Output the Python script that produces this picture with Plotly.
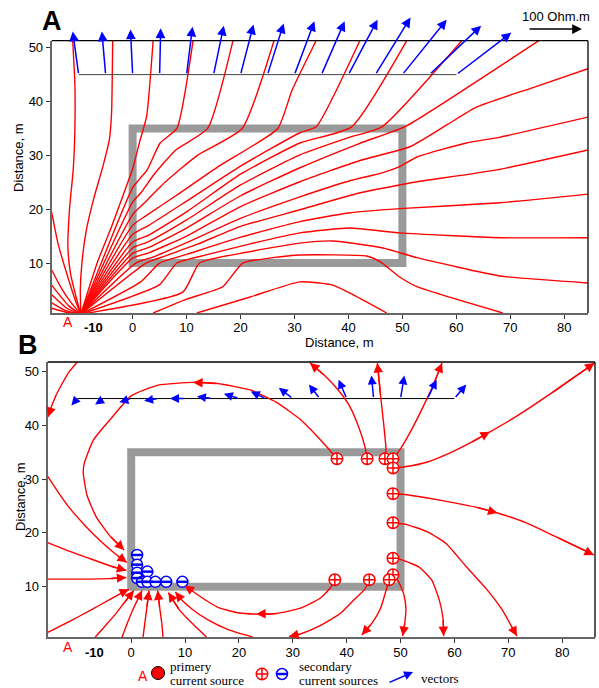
import plotly.graph_objects as go

W, H = 599, 688
SANS = "Liberation Sans, Arial, sans-serif"
SERIF = "Liberation Serif, Times New Roman, serif"
RED, BLUE, GREY = "#ff0000", "#0000ff", "#9a9a9a"

# ---------------- model geometry ----------------
box_x = [0, 50]
box_y = [10, 35]
profile_x = [-10, 60]
profile_y = 45
src_a = (-9.6, 0.0)
src_b = (-9.8, 0.0)

# ---------------- vectors (Ohm.m) along the profile ----------------
vec_x = [-10, -5, 0, 5, 10, 15, 20, 25, 30, 35, 40, 45, 50, 55, 60]
a_vec_u = [-11, -7, -4, 2, 11, 19, 24, 30, 37, 43, 54, 65, 82, 96, 102]
a_vec_v = [80, 80, 84, 86, 89, 91, 93, 95, 99, 99, 102, 106, 102, 91, 78]
b_vec_u = [-11, -17, -22, -26, -28, -28, -28, -28, -26, -20, -15, -4, 7, 17, 22]
b_vec_v = [-13, -11, -7, -4, 0, 4, 9, 13, 20, 26, 35, 43, 43, 35, 26]
vec_scale = 0.1        # distance units per Ohm.m
scale_bar = 100        # Ohm.m

# ---------------- panel A current lines ----------------
S = (-9.6, 0.5)
a_lines = [
    # leaving through the left edge
    [S, (-10.6, 3), (-12.2, 8), (-13.8, 13.5), (-15.0, 19.4)],
    [S, (-11.3, 2.5), (-13.3, 5.5), (-15.0, 8.7)],
    [S, (-11.8, 2.0), (-15.0, 5.9)],
    [S, (-12.2, 1.6), (-15.0, 4.1)],
    [S, (-12.5, 1.2), (-15.0, 2.6)],
    [S, (-12.5, 0.9), (-15.0, 1.6)],
    # to the top, left of the body
    [S, (-10.3, 3), (-11.5, 8), (-12.0, 13), (-11.7, 20), (-11.0, 27.5), (-10.7, 35), (-10.7, 43), (-11.1, 51.3)],
    [S, (-9.7, 5), (-9.4, 10), (-8.6, 16), (-7.2, 22), (-5.5, 28), (-4.3, 33), (-3.9, 38), (-3.7, 51.3)],
    [S, (-8.2, 5), (-6.4, 10.5), (-4.0, 16.5), (-1.8, 22.5), (0, 27.5), (1.3, 32.5), (2.6, 37.3), (3.8, 51.3)],
    # through the body, out of its top
    [S, (0, 24), (1.2, 25.5), (2.7, 27.3), (5.1, 32.3), (8.2, 35), (11.2, 51.3)],
    [S, (0, 21.3), (1.5, 23), (4, 26.5), (8, 31), (13.9, 35), (18.6, 51.3)],
    [S, (0, 19), (2, 21), (6, 25), (12, 30), (20.3, 35), (26.2, 51.3)],
    [S, (0, 17), (2.5, 18.8), (8, 22.5), (16, 28), (26.9, 35), (29.5, 42), (31.0, 45.2), (34.0, 51.3)],
    [S, (0, 15.3), (3, 17), (10, 21.5), (20, 28), (31, 34.2), (34, 35.3), (42.1, 51.3)],
    [S, (0, 13.9), (3, 15.2), (10, 19.5), (20, 26.5), (31, 32.3), (40.6, 35.3), (50.8, 51.3)],
    [S, (0, 12.8), (3, 14), (10, 18), (20, 24.5), (31, 30.1), (40, 33.3), (46.2, 35.3), (61.0, 51.3)],
    [S, (0, 11.8), (3, 12.9), (10, 16.5), (20, 22.5), (31, 27.7), (42, 32.2), (50.8, 35.5), (65.7, 45.0), (75.3, 51.3)],
    # through the body, out of its right side
    [S, (0, 10.9), (3, 11.9), (10, 15), (20, 20.5), (31, 25.1), (42, 29), (51.4, 31.6), (58.3, 35.7), (63.8, 39.0), (74.2, 42.6), (84.4, 46.1)],
    [S, (0.6, 10.0), (4, 11.2), (10, 13.8), (20, 18.3), (31, 22.3), (40, 25.2), (46.4, 26.8), (49.5, 27.9), (52.7, 29.7), (61.9, 32.3), (68.1, 33.4), (84.4, 37.1)],
    [S, (2.5, 10.0), (6, 11.3), (12, 13.5), (20, 16.8), (31, 19.9), (42, 23.0), (49.5, 24.5), (52.7, 25.1), (67.5, 27.3), (84.4, 31.0)],
    [S, (1.5, 6.5), (5, 10), (10, 11.6), (20, 14.8), (31, 17.7), (40, 19.3), (49.5, 20.1), (68.1, 21.2), (84.4, 22.8)],
    [S, (5, 6), (8.2, 10), (14, 11.6), (22, 13.6), (31, 15.6), (40.3, 16.5), (49.5, 15.6), (68.1, 14.7), (84.4, 14.7)],
    [S, (9.3, 4.6), (12.4, 10), (20, 11.8), (31, 13.7), (37.1, 14.1), (46.4, 12.8), (52.7, 11.0), (68.1, 7.6), (84.4, 6.3)],
    # re-entering from below
    [(3.8, 0.72), (10, 3.3), (16.7, 5.6), (20.4, 10.0), (26, 11), (31, 11.5), (43.4, 11.3), (45.8, 10.3), (49.5, 7.4), (52.7, 5.6), (68.6, 0.72)],
    [(11.9, 0.72), (21.8, 3.7), (31, 6.5), (37.1, 5.9), (40.3, 4.4), (47.1, 0.72)],
]

# ---------------- panel B current lines (flow direction) ----------------
b_lines = [
    [(38.2, 33.8), (36.5, 35.8), (34.5, 38.0), (31.4, 41.1), (27, 44.3), (22.1, 46.6), (16, 47.8), (11.5, 48.0), (5, 47.5), (0, 45.5), (-3.9, 41.1), (-7.0, 37.3), (-8.7, 33), (-8.9, 31.2), (-8.2, 27), (-6.5, 23), (-4.0, 19.5), (-1.3, 16.8)],
    [(43.8, 33.8), (43.4, 36), (42.3, 39.5), (40.6, 43.5), (38.5, 46.5), (36, 49.2), (33.2, 51.6)],
    [(47.1, 33.8), (47.3, 35.5), (46.9, 40), (46.3, 45.5), (45.7, 51.6)],
    [(48.6, 33.8), (49.9, 35.5), (52.2, 39.5), (54.2, 43.5), (56.2, 47.8), (57.7, 51.6)],
    [(48.6, 32.1), (50.8, 32.3), (55, 33.2), (59.2, 34.9), (63, 36.8), (66.6, 38.8), (72, 42), (78, 46), (86.0, 51.6)],
    [(48.6, 27.3), (50.5, 27.2), (55, 26.5), (60, 25.6), (64, 24.8), (68, 23.7), (73, 22), (79, 19.2), (85.9, 15.9)],
    [(48.6, 21.9), (51, 21.6), (55, 20.2), (58.5, 18.0), (62.3, 13.6), (66, 9.5), (68.8, 5.8), (70.5, 2.8), (71.6, 0.8)],
    [(48.6, 15.3), (50.5, 14.9), (53.5, 13.6), (55.8, 11.2), (57.2, 7.5), (57.9, 4.0), (58.0, 0.8)],
    [(48.6, 12.2), (49.6, 11.0), (50.6, 8.6), (51.0, 6.0), (50.8, 3.3), (50.4, 0.8)],
    [(47.9, 11.3), (47.4, 9.6), (46.3, 6.0), (44.7, 3.2), (42.8, 1.0)],
    [(44.2, 11.3), (43.4, 9.6), (41, 7.2), (38.8, 5.0), (35, 2.7), (31.4, 1.2), (29.3, 0.75)],
    [(37.8, 11.3), (37.0, 9.8), (35, 7.8), (31.4, 6.0), (27, 5.0), (23.2, 4.9), (19.5, 5.2), (16, 6.2), (13.5, 7.7), (11.2, 9.3), (9.9, 10.2)],
    [(-10.0, 51.8), (-11.5, 50), (-12.8, 47.8), (-14.0, 45.5), (-14.8, 43.5), (-15.4, 41.6)],
    [(-15.5, 30.5), (-13.5, 27.5), (-11.5, 24.7), (-8.5, 21.3), (-5.5, 18.3), (-2.7, 15.9), (-0.8, 14.5)],
    [(-15.5, 18.2), (-11.5, 16.6), (-7.6, 15.2), (-4, 13.9), (-0.9, 13.0)],
    [(-15.5, 11.4), (-11, 11.4), (-7.6, 11.4), (-4, 11.5), (-0.9, 11.7)],
    [(-15.5, 1.5), (-11.5, 3.5), (-7.6, 5.6), (-4, 7.6), (-1.5, 9.0), (-0.4, 9.5)],
    [(-6.7, 0.6), (-5, 2.5), (-3, 4.8), (-1.3, 7.0), (0.5, 9.3)],
    [(-1.7, 0.6), (-0.8, 3.0), (0.3, 5.7), (1.3, 7.8), (2.0, 9.3)],
    [(2.2, 0.6), (2.5, 3), (2.9, 6), (3.3, 9.3)],
    [(5.9, 0.6), (5.7, 3), (5.3, 6), (4.9, 9.3)],
    [(14.0, 0.6), (11.5, 3), (9, 5.6), (6.9, 8.9)],
    [(22.6, 0.6), (18, 2.0), (14.1, 3.9), (11.2, 5.9), (9.3, 7.6), (8.2, 9.0)],
]
b_mid_arrow = [7, None, None, None, 5, 5, None, None, None, None, None, 5,
               None, None, None, None, None, None, None, None, None, None, None]

b_pos_x = [38.2, 43.8, 47.1, 48.6, 48.6, 48.6, 48.6, 48.6, 48.6, 47.9, 44.2, 37.8]
b_pos_y = [33.8, 33.8, 33.8, 33.8, 32.1, 27.3, 21.9, 15.3, 12.2, 11.3, 11.3, 11.3]
b_neg_x = [1.1, 1.1, 1.1, 3.0, 1.1, 2.0, 3.0, 4.5, 6.5, 9.5]
b_neg_y = [15.9, 14.1, 12.6, 12.8, 11.6, 10.9, 10.9, 10.9, 10.9, 10.9]

x_ticks = [0, 10, 20, 30, 40, 50, 60, 70, 80]
y_ticks = [10, 20, 30, 40, 50]

# axis ranges (distance, m)
a_xr, a_yr = [-15.0, 84.4], [0.72, 51.3]
b_xr, b_yr = [-15.5, 86.1], [0.58, 51.8]
a_dom_px = (51.7, 588, 40.7, 313)      # left, right, top, bottom (px)
b_dom_px = (47.7, 595, 362, 637.3)


def pxx(v):
    return v / W


def pxy(v):
    return 1 - v / H


fig = go.Figure()

# ---- panel A lines ----
ax, ay = [], []
for ln in a_lines:
    ax += [p[0] for p in ln] + [None]
    ay += [p[1] for p in ln] + [None]
fig.add_trace(go.Scatter(x=ax, y=ay, mode="lines",
                         line=dict(color=RED, width=1.4, shape="spline", smoothing=0.5),
                         xaxis="x", yaxis="y", hoverinfo="skip", showlegend=False))
fig.add_trace(go.Scatter(x=profile_x, y=[profile_y] * 2, mode="lines",
                         line=dict(color="#444444", width=1), xaxis="x", yaxis="y",
                         hoverinfo="skip", showlegend=False))
fig.add_trace(go.Scatter(x=[src_a[0]], y=[src_a[1]], mode="markers", cliponaxis=False,
                         marker=dict(size=13, color=RED, line=dict(color="black", width=1)),
                         xaxis="x", yaxis="y", showlegend=False))

# ---- panel B lines ----
fig.add_trace(go.Scatter(x=profile_x, y=[profile_y] * 2, mode="lines",
                         line=dict(color="black", width=1), xaxis="x2", yaxis="y2",
                         hoverinfo="skip", showlegend=False))
bx, by = [], []
for ln in b_lines:
    bx += [p[0] for p in ln] + [None]
    by += [p[1] for p in ln] + [None]
fig.add_trace(go.Scatter(x=bx, y=by, mode="lines",
                         line=dict(color=RED, width=1.4, shape="spline", smoothing=0.5),
                         xaxis="x2", yaxis="y2", hoverinfo="skip", showlegend=False))

fig.add_trace(go.Scatter(x=b_pos_x, y=b_pos_y, mode="markers", cliponaxis=False,
                         marker=dict(symbol="circle-cross", size=11.5, color="white",
                                     line=dict(color=RED, width=1.5)),
                         xaxis="x2", yaxis="y2", showlegend=False))
fig.add_trace(go.Scatter(x=b_neg_x, y=b_neg_y, mode="markers", cliponaxis=False,
                         marker=dict(symbol="circle", size=11, color="white",
                                     line=dict(color=BLUE, width=1.5)),
                         xaxis="x2", yaxis="y2", showlegend=False))
fig.add_trace(go.Scatter(x=b_neg_x, y=b_neg_y, mode="markers", cliponaxis=False,
                         marker=dict(symbol="line-ew", size=8, line=dict(color=BLUE, width=2.5)),
                         xaxis="x2", yaxis="y2", showlegend=False))
fig.add_trace(go.Scatter(x=[src_b[0]], y=[src_b[1]], mode="markers", cliponaxis=False,
                         marker=dict(size=13, color=RED, line=dict(color="black", width=1)),
                         xaxis="x2", yaxis="y2", showlegend=False))

# ---- legend glyphs (pixel overlay) ----
fig.add_trace(go.Scatter(x=[158], y=[673], mode="markers",
                         marker=dict(size=13, color=RED, line=dict(color="black", width=1)),
                         xaxis="x3", yaxis="y3", showlegend=False))
fig.add_trace(go.Scatter(x=[262], y=[674], mode="markers",
                         marker=dict(symbol="circle-cross", size=11.5, color="white",
                                     line=dict(color=RED, width=1.5)),
                         xaxis="x3", yaxis="y3", showlegend=False))
fig.add_trace(go.Scatter(x=[282], y=[674], mode="markers",
                         marker=dict(symbol="circle", size=11, color="white",
                                     line=dict(color=BLUE, width=1.5)),
                         xaxis="x3", yaxis="y3", showlegend=False))
fig.add_trace(go.Scatter(x=[282], y=[674], mode="markers",
                         marker=dict(symbol="line-ew", size=8, line=dict(color=BLUE, width=2.5)),
                         xaxis="x3", yaxis="y3", showlegend=False))

ann = []
# red arrowheads along the panel-B current lines (end + selected mid points)
for ln, mid in zip(b_lines, b_mid_arrow):
    idx = [len(ln) - 1] + ([mid] if mid is not None else [])
    for i in idx:
        ann.append(dict(x=ln[i][0], y=ln[i][1], ax=ln[i - 1][0], ay=ln[i - 1][1],
                        xref="x2", yref="y2", axref="x2", ayref="y2", text="", showarrow=True,
                        arrowhead=2, arrowsize=1.35, arrowwidth=1.4, arrowcolor=RED, standoff=0))
# vectors panel A
for x0, u, v in zip(vec_x, a_vec_u, a_vec_v):
    ann.append(dict(x=x0 + u * vec_scale, y=profile_y + v * vec_scale, ax=x0, ay=profile_y,
                    xref="x", yref="y", axref="x", ayref="y", text="", showarrow=True,
                    arrowhead=2, arrowsize=1.3, arrowwidth=1.5, arrowcolor=BLUE, standoff=0))
# vectors panel B
for x0, u, v in zip(vec_x, b_vec_u, b_vec_v):
    ann.append(dict(x=x0 + u * vec_scale, y=profile_y + v * vec_scale, ax=x0, ay=profile_y,
                    xref="x2", yref="y2", axref="x2", ayref="y2", text="", showarrow=True,
                    arrowhead=2, arrowsize=1.2, arrowwidth=1.5, arrowcolor=BLUE, standoff=0))

# scale arrow (length of 100 Ohm.m in panel-A pixels)
a_px_per_unit = (a_dom_px[1] - a_dom_px[0]) / (a_xr[1] - a_xr[0])
bar_px = scale_bar * vec_scale * a_px_per_unit
ann.append(dict(x=pxx(528 + bar_px), y=pxy(29), ax=-bar_px, ay=0, xref="paper", yref="paper",
                text="", showarrow=True, arrowhead=2, arrowsize=1.3, arrowwidth=1.5,
                arrowcolor="black", standoff=0))
# legend arrow
ann.append(dict(x=pxx(413), y=pxy(672), ax=-25, ay=11, xref="paper", yref="paper",
                text="", showarrow=True, arrowhead=2, arrowsize=1.2, arrowwidth=1.5,
                arrowcolor=BLUE, standoff=0))


def txt(s, x, y, size=13, color="black", family=SANS, xanchor="center", angle=0):
    ann.append(dict(text=s, x=pxx(x), y=pxy(y), xref="paper", yref="paper", showarrow=False,
                    xanchor=xanchor, yanchor="middle", textangle=angle,
                    font=dict(size=size, color=color, family=family)))


txt("<b>A</b>", 52, 21, size=27)
txt("<b>B</b>", 28, 345, size=27)
txt("100 Ohm.m", 556, 16, size=13)
txt("Distance, m", 19, 158, angle=-90)
txt("Distance, m", 339, 342)
txt("Distance, m", 21, 497, angle=-90)
txt("<b>-10</b>", 93, 327, size=13)
txt("<b>-10</b>", 94, 652, size=13)
txt("A", 68, 322, size=14, color=RED)
txt("A", 68, 647, size=14, color=RED)
txt("A", 143, 676, size=14, color=RED)
txt("primery", 168, 666, size=13, family=SERIF, xanchor="left")
txt("current source", 168, 680, size=13, family=SERIF, xanchor="left")
txt("secondary", 297, 666, size=13, family=SERIF, xanchor="left")
txt("current sources", 297, 680, size=13, family=SERIF, xanchor="left")
txt("vectors", 419, 678, size=13, family=SERIF, xanchor="left")

shapes = []
for xr, yr in (("x", "y"), ("x2", "y2")):
    shapes.append(dict(type="rect", xref=xr, yref=yr, x0=box_x[0], x1=box_x[1],
                       y0=box_y[0], y1=box_y[1], line=dict(color=GREY, width=8), layer="below"))
    shapes.append(dict(type="line", xref=xr + " domain", yref=yr + " domain", x0=0, x1=1, y0=1, y1=1,
                       line=dict(color="black", width=1.3)))
    shapes.append(dict(type="line", xref=xr + " domain", yref=yr + " domain", x0=1, x1=1, y0=0, y1=1,
                       line=dict(color="black", width=1.3)))

axcommon = dict(showgrid=False, zeroline=False, showline=True, linecolor="#666666", linewidth=2,
                ticks="outside", ticklen=4, tickwidth=1, tickcolor="#333333",
                tickfont=dict(family=SANS, size=13, color="black"), fixedrange=True)

fig.update_layout(
    width=W, height=H, margin=dict(l=0, r=0, t=0, b=0),
    paper_bgcolor="white", plot_bgcolor="rgba(0,0,0,0)",
    xaxis=dict(domain=[a_dom_px[0] / W, a_dom_px[1] / W], range=a_xr, anchor="y",
               tickvals=x_ticks, ticklabelstandoff=-3, **axcommon),
    yaxis=dict(domain=[1 - a_dom_px[3] / H, 1 - a_dom_px[2] / H], range=a_yr, anchor="x",
               tickvals=y_ticks, **axcommon),
    xaxis2=dict(domain=[b_dom_px[0] / W, b_dom_px[1] / W], range=b_xr, anchor="y2",
                tickvals=x_ticks, ticklabelstandoff=-2, **axcommon),
    yaxis2=dict(domain=[1 - b_dom_px[3] / H, 1 - b_dom_px[2] / H], range=b_yr, anchor="x2",
                tickvals=y_ticks, **axcommon),
    xaxis3=dict(domain=[0, 1], range=[0, W], anchor="y3", visible=False, fixedrange=True),
    yaxis3=dict(domain=[0, 1], range=[H, 0], anchor="x3", visible=False, fixedrange=True),
    annotations=ann, shapes=shapes, showlegend=False,
)

fig.write_html("out.html")
